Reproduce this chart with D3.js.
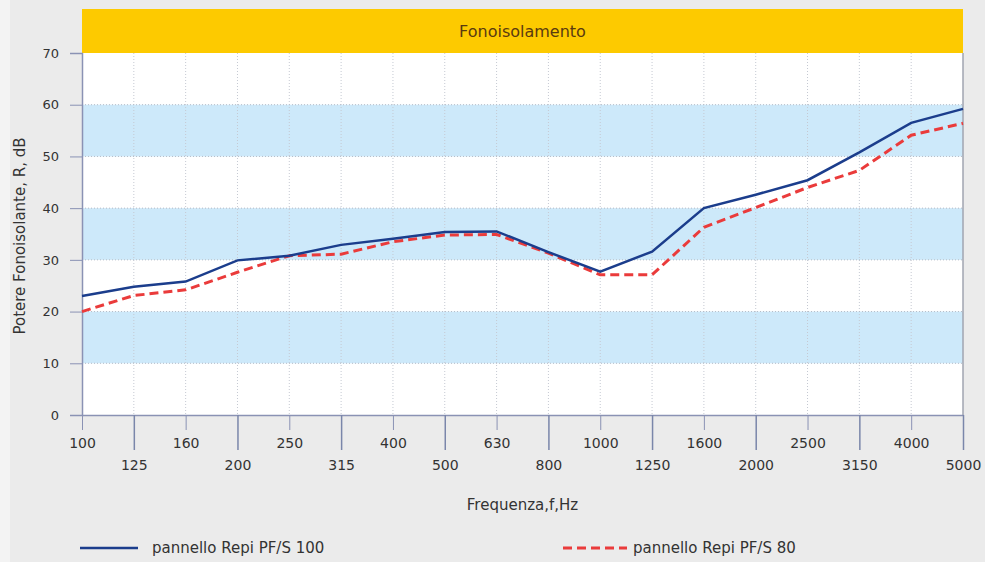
<!DOCTYPE html>
<html>
<head>
<meta charset="utf-8">
<script src="https://cdn.jsdelivr.net/npm/d3@7"></script>
<style>
  body { margin: 0; background: #ebebeb; }
  text { font-family: "DejaVu Sans", "Liberation Sans", sans-serif; fill: #333; }
</style>
</head>
<body>
<script>
const frequencies = ["100","125","160","200","250","315","400","500","630","800","1000","1250","1600","2000","2500","3150","4000","5000"]
const pf100 = [23, 24.8, 25.8, 29.9, 30.8, 32.9, 34.1, 35.4, 35.5, 31.5, 27.7, 31.6, 40, 42.6, 45.4, 50.8, 56.5, 59.2]
const pf80 = [20, 23.1, 24.2, 27.6, 30.8, 31.1, 33.5, 34.8, 34.9, 31.3, 27.1, 27.1, 36.3, 40.1, 44, 47.3, 54.1, 56.4]
const yTicks = [0, 10, 20, 30, 40, 50, 60, 70]
const bands = [[10, 20], [30, 40], [50, 60]]
const seriesNames = ["pannello Repi PF/S 100", "pannello Repi PF/S 80"]

const W = 985, H = 562
const mLeft = 82, mRight = 963, mTop = 53, mBottom = 415

const svg = d3.select("body").append("svg")
    .attr("width", W)
    .attr("height", H)

svg.append("rect").attr("width", W).attr("height", H).attr("fill", "#ebebeb")
svg.append("rect").attr("width", 10).attr("height", H).attr("fill", "#f3f3f3")

const x = d3.scalePoint().domain(frequencies).range([mLeft, mRight])
const y = d3.scaleLinear().domain([0, 70]).range([mBottom, mTop])

// plot background + bands
svg.append("rect")
    .attr("x", mLeft).attr("y", mTop)
    .attr("width", mRight - mLeft).attr("height", mBottom - mTop)
    .attr("fill", "#fff")

svg.selectAll("rect.band")
    .data(bands)
    .enter()
    .append("rect")
    .attr("class", "band")
    .attr("x", mLeft)
    .attr("y", d => y(d[1]))
    .attr("width", mRight - mLeft)
    .attr("height", d => y(d[0]) - y(d[1]))
    .attr("fill", "#cde9fa")

// title bar
svg.append("rect")
    .attr("x", mLeft).attr("y", 9)
    .attr("width", mRight - mLeft).attr("height", mTop - 9)
    .attr("fill", "#fdca00")
svg.append("text")
    .attr("x", (mLeft + mRight) / 2).attr("y", 37)
    .attr("text-anchor", "middle")
    .style("font-size", "16px")
    .style("fill", "#5a3a10")
    .text("Fonoisolamento")

// grid
svg.selectAll("line.vgrid")
    .data(frequencies.slice(1, -1))
    .enter()
    .append("line")
    .attr("x1", d => x(d)).attr("x2", d => x(d))
    .attr("y1", mTop).attr("y2", mBottom)
    .attr("stroke", "#c5c9d2")
    .attr("stroke-dasharray", "1,2")

svg.selectAll("line.hgrid")
    .data(yTicks.slice(1, -1))
    .enter()
    .append("line")
    .attr("x1", mLeft).attr("x2", mRight)
    .attr("y1", d => y(d)).attr("y2", d => y(d))
    .attr("stroke", "#b4bac6")
    .attr("stroke-dasharray", "1,2")

// right border
svg.append("line")
    .attr("x1", mRight).attr("x2", mRight)
    .attr("y1", mTop).attr("y2", mBottom)
    .attr("stroke", "#a0a4b0").attr("stroke-width", 1.5)

// y axis
const yAxis = svg.append("g")
    .attr("transform", `translate(${mLeft},0)`)
    .call(d3.axisLeft(y).tickValues(yTicks).tickSize(12).tickPadding(11))
yAxis.select(".domain").attr("stroke", "#8a92b4").attr("stroke-width", 1.5)
yAxis.selectAll(".tick line").attr("stroke", "#8a92b4")
yAxis.selectAll("text").style("font-size", "13px").style("fill", "#333")

// x axis with staggered labels
const xAxis = svg.append("g")
    .attr("transform", `translate(0,${mBottom})`)
    .call(d3.axisBottom(x).tickSize(0).tickPadding(0))
xAxis.select(".domain").attr("stroke", "#8a92b4").attr("stroke-width", 1.5)
xAxis.selectAll(".tick line")
    .attr("y2", (d, i) => i % 2 ? 35 : 15)
    .attr("stroke", (d, i) => i % 2 ? "#7a86aa" : "#8a92b4")
    .attr("stroke-width", (d, i) => i % 2 ? 1.5 : 1)
xAxis.selectAll("text")
    .attr("y", (d, i) => i % 2 ? 55 : 33)
    .attr("dy", 0)
    .style("font-size", "14px")
    .style("fill", "#333")

// axis titles
svg.append("text")
    .attr("transform", `translate(25,${(mTop + mBottom) / 2 + 2}) rotate(-90)`)
    .attr("text-anchor", "middle")
    .style("font-size", "15px")
    .text("Potere Fonoisolante, R, dB")

svg.append("text")
    .attr("x", (mLeft + mRight) / 2).attr("y", 510)
    .attr("text-anchor", "middle")
    .style("font-size", "15px")
    .text("Frequenza,f,Hz")

// lines
const line = d3.line()
    .x((d, i) => x(frequencies[i]))
    .y(d => y(d))

svg.append("path")
    .attr("fill", "none")
    .attr("stroke", "#ea3b3b")
    .attr("stroke-width", 3)
    .attr("stroke-dasharray", "9,5")
    .attr("d", line(pf80))

svg.append("path")
    .attr("fill", "none")
    .attr("stroke", "#1b3d8c")
    .attr("stroke-width", 2.5)
    .attr("d", line(pf100))

// legend
const legend = [
    {name: seriesNames[0], x0: 80, x1: 138, tx: 152, color: "#1b3d8c", dash: null, w: 2.5},
    {name: seriesNames[1], x0: 563, x1: 627, tx: 633, color: "#ea3b3b", dash: "9,5", w: 3},
]
legend.forEach(l => {
    svg.append("line")
        .attr("x1", l.x0).attr("x2", l.x1)
        .attr("y1", 548).attr("y2", 548)
        .attr("stroke", l.color)
        .attr("stroke-width", l.w)
        .attr("stroke-dasharray", l.dash)
    svg.append("text")
        .attr("x", l.tx).attr("y", 553)
        .style("font-size", "15px")
        .text(l.name)
})
</script>
</body>
</html>
